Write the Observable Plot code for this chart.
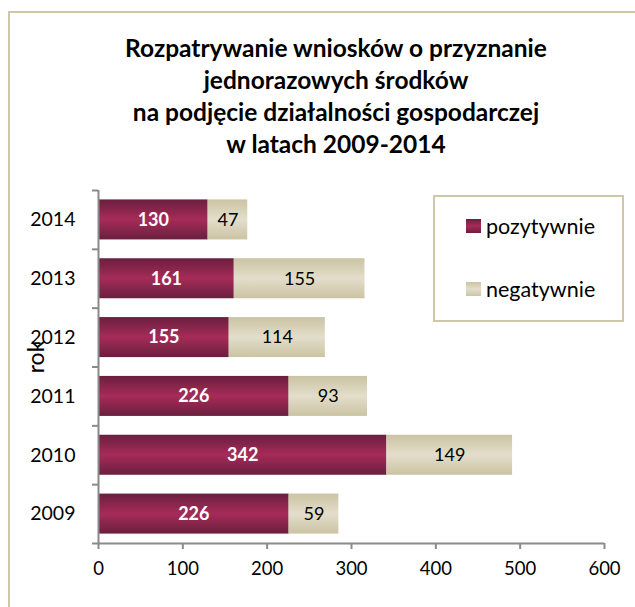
<!DOCTYPE html>
<html>
<head>
<meta charset="utf-8">
<script src="https://cdn.jsdelivr.net/npm/d3@7"></script>
<script src="https://cdn.jsdelivr.net/npm/@observablehq/plot@0.6"></script>
<style>
  html, body { margin:0; padding:0; background:#fff; overflow:hidden; }
  #wrap { position:relative; width:635px; height:607px; overflow:hidden; font-family:Lato, "Open Sans", sans-serif; }
  #frame { position:absolute; left:8px; top:11px; width:800px; height:800px; border:2px solid #CFC8A8; box-sizing:border-box; }
  #title { position:absolute; left:0; top:32px; width:672px; text-align:center; font-weight:bold; font-size:24.5px; line-height:32px; color:#000; }
  #legend { position:absolute; left:433px; top:195px; width:191px; height:127px; border:2px solid #CFC8A8; box-sizing:border-box; background:#fff; font-size:21.5px; }
  .li { position:absolute; left:31px; display:flex; align-items:center; }
  .sw { width:15px; height:14px; margin-right:5px; }
  #chart { position:absolute; left:0; top:0; }
</style>
</head>
<body>
<div id="wrap">
  <div id="frame"></div>
  <div id="title"></div>
  <div id="chart"></div>
  <div id="legend"></div>
</div>
<script>
const titleLines = ["Rozpatrywanie wniosków o przyznanie", "jednorazowych środków", "na podjęcie działalności gospodarczej", "w latach 2009-2014"];
const years = ["2009", "2010", "2011", "2012", "2013", "2014"];
const pozytywnie = [226, 342, 226, 155, 161, 130];
const negatywnie = [59, 149, 93, 114, 155, 47];
const seriesNames = ["pozytywnie", "negatywnie"];
const xTicks = [0, 100, 200, 300, 400, 500, 600];
const yLabel = "rok";

document.getElementById("title").innerHTML = titleLines.join("<br>");

const rows = years.map((yr, i) => ({yr, i, pos: pozytywnie[i], neg: negatywnie[i]}));

const plot = Plot.plot({
  width: 635, height: 607,
  marginLeft: 98, marginRight: 31, marginTop: 190, marginBottom: 64,
  style: {fontFamily: "Lato, 'Open Sans', sans-serif", background: "transparent", color: "#000"},
  x: {domain: [0, 600]},
  y: {domain: [0, 6]},
  marks: [
    Plot.rectX(rows, {x1: 0, x2: d => d.pos, y1: d => d.i + 0.16, y2: d => d.i + 0.84, fill: "url(#gPos)"}),
    Plot.rectX(rows, {x1: d => d.pos, x2: d => d.pos + d.neg, y1: d => d.i + 0.16, y2: d => d.i + 0.84, fill: "url(#gNeg)"}),
    Plot.text(rows, {x: d => d.pos / 2, y: d => d.i + 0.5, text: d => String(d.pos), fill: "#fff", fontWeight: "bold", fontSize: 18}),
    Plot.text(rows, {x: d => d.pos + d.neg / 2, y: d => d.i + 0.5, text: d => String(d.neg), fill: "#000", fontSize: 18}),
    Plot.ruleX([0], {stroke: "#8A8A8A", strokeWidth: 2}),
    Plot.ruleY([0], {stroke: "#8A8A8A", strokeWidth: 2}),
    Plot.axisX({ticks: xTicks, tickSize: 6, tickPadding: 12, fontSize: 18.5, stroke: "#8A8A8A", strokeWidth: 2, label: null}),
    Plot.axisY({ticks: d3.range(0, 7), tickSize: 6, tickFormat: () => "", stroke: "#8A8A8A", strokeWidth: 2, label: null}),
    Plot.axisY({ticks: years.map((_, i) => i + 0.5), tickSize: 0, tickPadding: 23, tickFormat: v => years[Math.round(v - 0.5)], fontSize: 19.5, label: null}),
    Plot.text([yLabel], {frameAnchor: "left", textAnchor: "middle", dx: -62, dy: -10, rotate: -90, fontSize: 23, fill: "#000"})
  ]
});

const ns = "http://www.w3.org/2000/svg";
const defs = document.createElementNS(ns, "defs");
function grad(id, edge, mid) {
  const g = document.createElementNS(ns, "linearGradient");
  g.setAttribute("id", id);
  g.setAttribute("x1", "0"); g.setAttribute("y1", "0"); g.setAttribute("x2", "0"); g.setAttribute("y2", "1");
  [[0, edge], [0.5, mid], [1, edge]].forEach(([o, c]) => {
    const s = document.createElementNS(ns, "stop");
    s.setAttribute("offset", o); s.setAttribute("stop-color", c);
    g.appendChild(s);
  });
  defs.appendChild(g);
}
grad("gPos", "#6A1F3F", "#A62B58");
grad("gNeg", "#CBC3A3", "#E3DECB");
plot.insertBefore(defs, plot.firstChild);
document.getElementById("chart").appendChild(plot);

const legend = document.getElementById("legend");
const swatches = ["linear-gradient(#6A1F3F, #A62B58, #6A1F3F)", "linear-gradient(#CBC3A3, #E3DECB, #CBC3A3)"];
seriesNames.forEach((n, k) => {
  const d = document.createElement("div");
  d.className = "li";
  d.style.top = (k === 0 ? 16 : 79) + "px";
  d.innerHTML = `<div class="sw" style="background:${swatches[k]}"></div><span>${n}</span>`;
  legend.appendChild(d);
});
</script>
</body>
</html>
